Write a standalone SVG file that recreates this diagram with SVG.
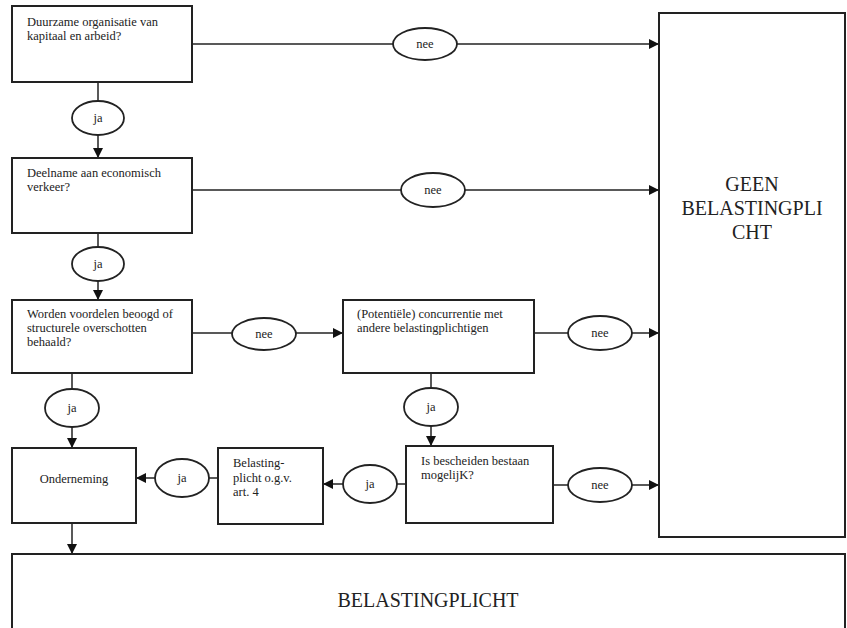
<svg xmlns="http://www.w3.org/2000/svg" width="847" height="628" viewBox="0 0 847 628">
<defs>
<marker id="arr" markerUnits="userSpaceOnUse" markerWidth="11" markerHeight="11" refX="10" refY="5" orient="auto">
<path d="M0,0 L10,5 L0,10 z" fill="#111"/>
</marker>
<style>
.box{fill:#fff;stroke:#222;stroke-width:2}
.ell{fill:#fff;stroke:#222;stroke-width:1.8}
.ln{fill:none;stroke:#222;stroke-width:1.5}
text{font-family:'Liberation Serif','Tinos','Times New Roman','DejaVu Serif',serif;fill:#222}
.t{font-size:12.5px}
.c{text-anchor:middle}
.big{font-size:20px;text-anchor:middle}
</style>
</defs>
<rect width="847" height="628" fill="#fff"/>

<g id="connectors">
<line class="ln" x1="192" y1="44" x2="393" y2="44"/>
<line class="ln" x1="457" y1="44" x2="659" y2="44" marker-end="url(#arr)"/>
<line class="ln" x1="192" y1="190" x2="401" y2="190"/>
<line class="ln" x1="465" y1="190" x2="659" y2="190" marker-end="url(#arr)"/>
<line class="ln" x1="192" y1="333" x2="232" y2="333"/>
<line class="ln" x1="296" y1="333" x2="343" y2="333" marker-end="url(#arr)"/>
<line class="ln" x1="534" y1="333" x2="568" y2="333"/>
<line class="ln" x1="632" y1="333" x2="659" y2="333" marker-end="url(#arr)"/>
<line class="ln" x1="553" y1="485" x2="568" y2="485"/>
<line class="ln" x1="632" y1="485" x2="659" y2="485" marker-end="url(#arr)"/>
<line class="ln" x1="98" y1="82" x2="98" y2="101"/>
<line class="ln" x1="98" y1="135" x2="98" y2="158" marker-end="url(#arr)"/>
<line class="ln" x1="98" y1="233" x2="98" y2="247"/>
<line class="ln" x1="98" y1="281" x2="98" y2="300" marker-end="url(#arr)"/>
<line class="ln" x1="72" y1="373" x2="72" y2="389"/>
<line class="ln" x1="72" y1="427" x2="72" y2="448" marker-end="url(#arr)"/>
<line class="ln" x1="431" y1="373" x2="431" y2="388"/>
<line class="ln" x1="431" y1="426" x2="431" y2="446" marker-end="url(#arr)"/>
<line class="ln" x1="406" y1="484" x2="397" y2="484"/>
<line class="ln" x1="343" y1="484" x2="323" y2="484" marker-end="url(#arr)"/>
<line class="ln" x1="218" y1="478" x2="209" y2="478"/>
<line class="ln" x1="155" y1="478" x2="136" y2="478" marker-end="url(#arr)"/>
<line class="ln" x1="72" y1="523" x2="72" y2="554" marker-end="url(#arr)"/>

<g id="nee1"><ellipse class="ell" cx="425" cy="44" rx="32" ry="16"/><text class="t c" x="425" y="48">nee</text></g>
<g id="nee2"><ellipse class="ell" cx="433" cy="190" rx="32" ry="17"/><text class="t c" x="433" y="194">nee</text></g>
<g id="nee3"><ellipse class="ell" cx="264" cy="334" rx="32" ry="16"/><text class="t c" x="264" y="338">nee</text></g>
<g id="nee4"><ellipse class="ell" cx="600" cy="333" rx="32" ry="17"/><text class="t c" x="600" y="337">nee</text></g>
<g id="nee5"><ellipse class="ell" cx="600" cy="485" rx="32" ry="17"/><text class="t c" x="600" y="489">nee</text></g>
<g id="ja1"><ellipse class="ell" cx="98" cy="118" rx="26" ry="17"/><text class="t c" x="98" y="122">ja</text></g>
<g id="ja2"><ellipse class="ell" cx="98" cy="264" rx="26" ry="17"/><text class="t c" x="98" y="268">ja</text></g>
<g id="ja3"><ellipse class="ell" cx="72" cy="408" rx="27" ry="19"/><text class="t c" x="72" y="412">ja</text></g>
<g id="ja4"><ellipse class="ell" cx="431" cy="407" rx="27" ry="19"/><text class="t c" x="431" y="411">ja</text></g>
<g id="ja5"><ellipse class="ell" cx="370" cy="484" rx="27" ry="19"/><text class="t c" x="370" y="488">ja</text></g>
<g id="ja6"><ellipse class="ell" cx="182" cy="478" rx="27" ry="19"/><text class="t c" x="182" y="482">ja</text></g>
</g>

<g id="q1"><rect class="box" x="12" y="6" width="180" height="76"/>
<text class="t" x="27" y="26">Duurzame organisatie van</text>
<text class="t" x="27" y="40">kapitaal en arbeid?</text></g>

<g id="q2"><rect class="box" x="12" y="158" width="180" height="75"/>
<text class="t" x="27" y="177">Deelname aan economisch</text>
<text class="t" x="27" y="191">verkeer?</text></g>

<g id="q3"><rect class="box" x="12" y="300" width="180" height="73"/>
<text class="t" x="27" y="318">Worden voordelen beoogd of</text>
<text class="t" x="27" y="332">structurele overschotten</text>
<text class="t" x="27" y="346">behaald?</text></g>

<g id="q4"><rect class="box" x="343" y="300" width="191" height="73"/>
<text class="t" x="357" y="318">(Potentiële) concurrentie met</text>
<text class="t" x="357" y="332">andere belastingplichtigen</text></g>

<g id="q5"><rect class="box" x="406" y="446" width="147" height="77"/>
<text class="t" x="421" y="465">Is bescheiden bestaan</text>
<text class="t" x="421" y="479">mogelijK?</text></g>

<g id="art4"><rect class="box" x="218" y="448" width="105" height="76"/>
<text class="t" x="233" y="467">Belasting-</text>
<text class="t" x="233" y="482">plicht o.g.v.</text>
<text class="t" x="233" y="496">art. 4</text></g>

<g id="onderneming"><rect class="box" x="12" y="448" width="124" height="75"/>
<text class="t c" x="74" y="483">Onderneming</text></g>

<g id="geen"><rect class="box" x="659" y="13" width="186" height="524"/>
<text class="big" x="752" y="191">GEEN</text>
<text class="big" x="752" y="215">BELASTINGPLI</text>
<text class="big" x="752" y="239">CHT</text></g>

<g id="belastingplicht"><rect class="box" x="12" y="554" width="833" height="90"/>
<text class="big" x="428" y="607">BELASTINGPLICHT</text></g>
</svg>
